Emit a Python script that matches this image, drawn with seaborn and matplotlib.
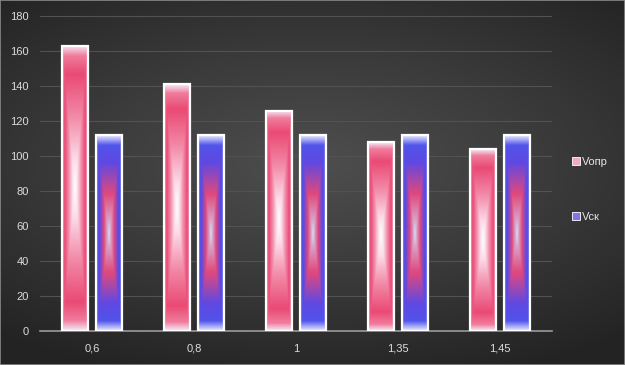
import numpy as np
import pandas as pd
import seaborn as sns
import matplotlib.pyplot as plt
from matplotlib.colors import LinearSegmentedColormap
from matplotlib.patches import Rectangle

categories = ['0,6', '0,8', '1', '1,35', '1,45']
v_opr = [163, 141, 126, 108, 104]
v_sk = [112, 112, 112, 112, 112]
series = ['Vопр', 'Vск']

df = pd.DataFrame({
    'cat': categories * 2,
    'val': v_opr + v_sk,
    'series': [series[0]] * len(categories) + [series[1]] * len(categories),
})

# rectangular "from centre" gradients like the office fill
pink_cmap = LinearSegmentedColormap.from_list('pink', [
    (0.0, '#ffffff'), (0.2, '#fcdce8'), (0.5, '#f28aa8'), (0.8, '#ea4a74'),
    (0.93, '#f07c9c'), (1.0, '#f4e8f4')])
blue_cmap = LinearSegmentedColormap.from_list('blue', [
    (0.0, '#cfe0f4'), (0.12, '#d8a8cc'), (0.4, '#e0487c'), (0.72, '#6048e2'),
    (0.9, '#5054ea'), (1.0, '#e8e8ff')])


def gradient(cmap, nx=60, ny=300):
    u = np.abs(np.linspace(-1, 1, nx))
    v = np.abs(np.linspace(-1, 1, ny))
    U, V = np.meshgrid(u, v)
    return cmap(np.maximum(U, V))


sns.set_style('dark')
plt.rcParams['font.family'] = ['Liberation Sans', 'DejaVu Sans']

fig = plt.figure(figsize=(6.25, 3.65), dpi=100)

# dark background with lighter centre
bg = fig.add_axes([0, 0, 1, 1], zorder=-5)
yy, xx = np.mgrid[-1:1:200j, -1:1:300j]
r = np.sqrt((xx * 0.8) ** 2 + ((yy + 0.1) * 1.0) ** 2)
bg_cmap = LinearSegmentedColormap.from_list('bg', ['#4e4e4e', '#3a3a3a', '#232323'])
bg.imshow(np.clip(r / 1.25, 0, 1), cmap=bg_cmap, aspect='auto', extent=[0, 1, 0, 1])
bg.set_axis_off()
bg.add_patch(Rectangle((0, 0), 1, 1, transform=bg.transAxes, fill=False,
                       edgecolor='#8a8a8a', lw=1.2))

ax = fig.add_axes([0.064, 0.093, 0.819, 0.863])
ax.set_facecolor('none')

sns.barplot(data=df, x='cat', y='val', hue='series', order=categories,
            hue_order=series, width=0.67, gap=0.24, dodge=True,
            palette=['#ea5a82', '#5a50e6'], ax=ax, legend=False, zorder=3)

cmaps = [pink_cmap] * len(categories) + [blue_cmap] * len(categories)
for patch, cm in zip(ax.patches, cmaps):
    x0, y0 = patch.get_x(), patch.get_y()
    w, h = patch.get_width(), patch.get_height()
    im = ax.imshow(gradient(cm), extent=[x0, x0 + w, y0, y0 + h],
                   aspect='auto', zorder=3, interpolation='bilinear')
    im.set_clip_path(patch)
    patch.set_facecolor('none')
    patch.set_edgecolor('white')
    patch.set_linewidth(1.6)
    patch.set_zorder(4)

ax.set_xlim(-0.51, 4.51)
ax.set_ylim(0, 180)
ax.set_yticks(range(0, 181, 20))
ax.grid(axis='y', color='#525252', lw=0.8, zorder=0)
ax.grid(axis='x', visible=False)
ax.set_axisbelow(True)
for s in ['top', 'right', 'left']:
    ax.spines[s].set_visible(False)
ax.spines['bottom'].set_color('#9a9a9a')
ax.spines['bottom'].set_linewidth(1.2)
ax.tick_params(axis='both', length=0, colors='#dcdcdc', labelsize=8)
ax.tick_params(axis='y', pad=8)
ax.tick_params(axis='x', pad=9)
ax.set_xlabel('')
ax.set_ylabel('')

handles = [Rectangle((0, 0), 1, 1, facecolor='#f4a8c2', edgecolor='#ffffff', lw=0.6),
           Rectangle((0, 0), 1, 1, facecolor='#8a70e6', edgecolor='#ffffff', lw=0.6)]
leg = ax.legend(handles, series, loc='center left', bbox_to_anchor=(1.02, 0.45),
                frameon=False, fontsize=8, labelcolor='#e6e6e6',
                handlelength=0.7, handleheight=0.7, handletextpad=0.2,
                labelspacing=4.0)

fig.savefig('out.png', dpi=100)
